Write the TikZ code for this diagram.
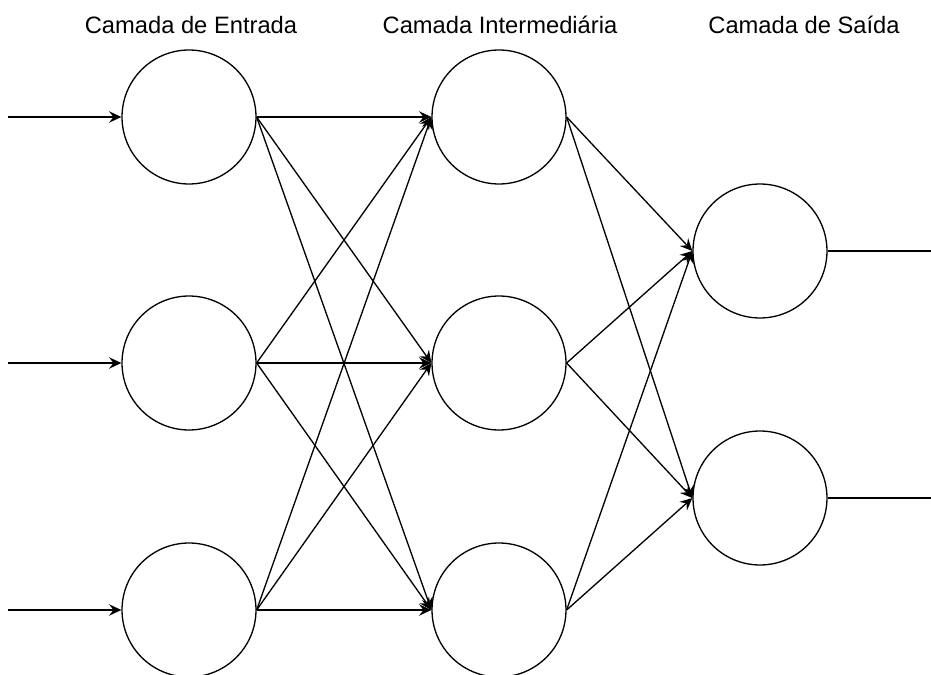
\documentclass[tikz,border=0pt]{standalone}
\usepackage{fontspec}
\setmainfont{Liberation Sans}
\usetikzlibrary{arrows.meta}

\begin{document}
\begin{tikzpicture}[x=0.02cm,y=0.02cm,
    neuron/.style={draw,circle,minimum size=2.68cm,inner sep=0pt,line width=0.75pt},
    link/.style={line width=0.75pt,-{Stealth[length=7pt,width=6.5pt,inset=2.5pt]}},
    title/.style={font=\fontsize{13.5}{16}\selectfont}]
      \clip (0,0) rectangle (931,674);

      \node[title] (tin) at (191,649) {Camada de Entrada};
      \node[title] (thid) at (500,649) {Camada Intermediária};
      \node[title] (tout) at (804,649) {Camada de Saída};

      \node[neuron] (in1) at (189,557) {};
      \node[neuron] (in2) at (189,311) {};
      \node[neuron] (in3) at (189,64) {};

      \node[neuron] (hid1) at (499,557) {};
      \node[neuron] (hid2) at (499,311) {};
      \node[neuron] (hid3) at (499,64) {};

      \node[neuron] (out1) at (760,423) {};
      \node[neuron] (out2) at (760,176) {};

      \foreach \i in {1,2,3}
        \coordinate (x\i) at (8,0 |- in\i);
      \foreach \i in {1,2}
        \coordinate (y\i) at (945,0 |- out\i);

      \foreach \i in {1,2,3}
        \draw[link] (x\i) -- (in\i.west);

      \foreach \i in {1,2,3}
        \foreach \j in {1,2,3}
          \draw[link] (in\i.east) -- (hid\j.west);

      \foreach \i in {1,2,3}
        \foreach \j in {1,2}
          \draw[link] (hid\i.east) -- (out\j.west);

      \foreach \i in {1,2}
        \draw[link] (out\i.east) -- (y\i);
    \end{tikzpicture}
\end{document}
